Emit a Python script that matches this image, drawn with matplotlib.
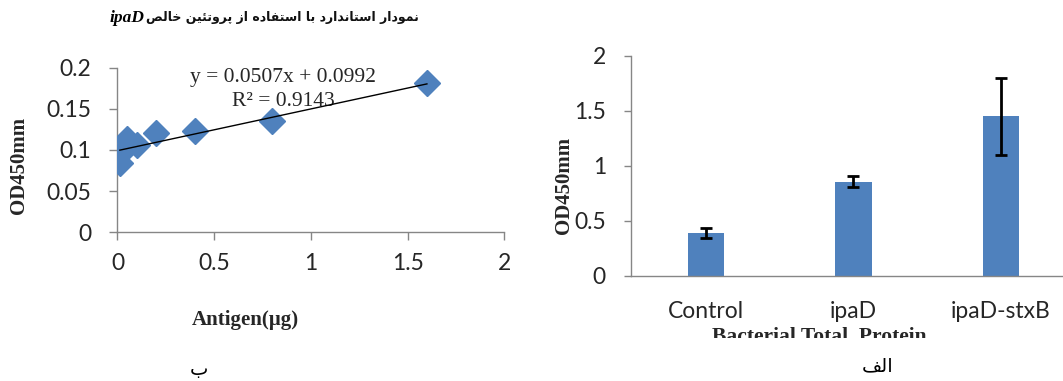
import numpy as np
import matplotlib
matplotlib.use('Agg')
import matplotlib.pyplot as plt
from matplotlib.patches import Rectangle

# standard curve (purified ipaD)
antigen_ug = [0.0125, 0.025, 0.05, 0.1, 0.2, 0.4, 0.8, 1.6]
od_std = [0.084, 0.098, 0.113, 0.106, 0.121, 0.123, 0.135, 0.182]
fit_slope, fit_icpt, fit_r2 = 0.0507, 0.0992, 0.9143

# bacterial total protein
groups = ['Control', 'ipaD', 'ipaD-stxB']
od_mean = [0.39, 0.855, 1.45]
od_err = [0.045, 0.05, 0.35]

BLUE = '#4F81BD'
AXC = '#868686'
TXT = '#262626'

# --- minimal arabic/persian shaping (presentation forms, visual order) ---
FORMS = {
    'ا': ('\uFE8D', '\uFE8E'), 'د': ('\uFEA9', '\uFEAA'), 'ر': ('\uFEAD', '\uFEAE'),
    'ز': ('\uFEAF', '\uFEB0'), 'و': ('\uFEED', '\uFEEE'),
    'ب': ('\uFE8F', '\uFE90', '\uFE91', '\uFE92'), 'ت': ('\uFE95', '\uFE96', '\uFE97', '\uFE98'),
    'خ': ('\uFEA5', '\uFEA6', '\uFEA7', '\uFEA8'), 'س': ('\uFEB1', '\uFEB2', '\uFEB3', '\uFEB4'),
    'ص': ('\uFEB9', '\uFEBA', '\uFEBB', '\uFEBC'), 'ف': ('\uFED1', '\uFED2', '\uFED3', '\uFED4'),
    'ل': ('\uFEDD', '\uFEDE', '\uFEDF', '\uFEE0'), 'م': ('\uFEE1', '\uFEE2', '\uFEE3', '\uFEE4'),
    'ن': ('\uFEE5', '\uFEE6', '\uFEE7', '\uFEE8'), 'ه': ('\uFEE9', '\uFEEA', '\uFEEB', '\uFEEC'),
    'ئ': ('\uFE89', '\uFE8A', '\uFE8B', '\uFE8C'), 'پ': ('\uFB56', '\uFB57', '\uFB58', '\uFB59'),
    'ی': ('\uFBFC', '\uFBFD', '\uFBFE', '\uFBFF'),
}


def shape_fa(s):
    out = []
    for i, ch in enumerate(s):
        f = FORMS.get(ch)
        if f is None:
            out.append(ch)
            continue
        prev = s[i - 1] if i > 0 else ''
        nxt = s[i + 1] if i + 1 < len(s) else ''
        join_prev = prev in FORMS and len(FORMS[prev]) == 4
        join_next = len(f) == 4 and nxt in FORMS
        if join_prev and join_next:
            out.append(f[3])
        elif join_prev:
            out.append(f[1])
        elif join_next:
            out.append(f[2])
        else:
            out.append(f[0])
    return ''.join(out)[::-1]


fig = plt.figure(figsize=(10.63, 3.81), dpi=100)

# ---------------- left: standard curve ----------------
ax1 = fig.add_axes([0.1105, 0.3903, 0.3639, 0.432])
ax1.plot(antigen_ug, od_std, 'D', color=BLUE, ms=13, zorder=3)
xf = np.array([min(antigen_ug), max(antigen_ug)])
ax1.plot(xf, fit_slope * xf + fit_icpt, color='black', lw=1, zorder=4)
ax1.set_xlim(0, 2)
ax1.set_ylim(0, 0.2)
ax1.set_xticks([0, 0.5, 1, 1.5, 2])
ax1.set_xticklabels(['0', '0.5', '1', '1.5', '2'])
ax1.set_yticks([0, 0.05, 0.1, 0.15, 0.2])
ax1.set_yticklabels(['0', '0.05', '0.1', '0.15', '0.2'])
ax1.text(0.856, 0.1887, f'y = {fit_slope}x + {fit_icpt}', ha='center', va='center',
         family='Liberation Serif', fontsize=15.5, color=TXT)
ax1.text(0.856, 0.1587, f'R² = {fit_r2}', ha='center', va='center',
         family='Liberation Serif', fontsize=15.5, color=TXT)
ax1.set_xlabel('Antigen(µg)', family='Liberation Serif', fontweight='bold', fontsize=15, color=TXT)
ax1.xaxis.set_label_coords(0.33, -0.533)
ax1.xaxis.label.set_va('center')
ax1.set_ylabel('OD450mm', family='Liberation Serif', fontweight='bold', fontsize=15, color=TXT)
ax1.yaxis.set_label_coords(-0.2547, 0.409)
ax1.yaxis.label.set_va('center')
ax1.tick_params(axis='y', direction='out', length=6, width=1, color=AXC, pad=13,
                labelsize=16.5, labelcolor=TXT)
ax1.tick_params(axis='x', direction='out', length=6, width=1, color=AXC, pad=9,
                labelsize=16.5, labelcolor=TXT)

# title: persian text + bold italic ipaD
fig.text(0.1355, 0.953, 'ipaD', ha='right', va='center', family='Liberation Serif',
         fontweight='bold', style='italic', fontsize=12.5, color='black')
fig.text(0.137, 0.953, shape_fa('نمودار استاندارد با استفاده از پروتئین خالص'),
         ha='left', va='center', family='DejaVu Sans', fontweight='bold', fontsize=9, color='#111111')

# ---------------- right: bar chart ----------------
ax2 = fig.add_axes([0.5936, 0.2764, 0.4175, 0.5774])
xpos = np.arange(len(groups))
ax2.bar(xpos, od_mean, width=0.245, color=BLUE, zorder=2)
ax2.errorbar(xpos, od_mean, yerr=od_err, fmt='none', ecolor='black', elinewidth=2,
             capsize=4, capthick=2, zorder=3)
ax2.set_xlim(-0.508, 2.5)
ax2.set_ylim(0, 2)
ax2.set_xticks(xpos)
ax2.set_xticklabels(groups)
ax2.set_yticks([0, 0.5, 1, 1.5, 2])
ax2.set_yticklabels(['0', '0.5', '1', '1.5', '2'])
ax2.tick_params(axis='y', direction='out', length=5, width=1, color=AXC, pad=13,
                labelsize=16.5, labelcolor=TXT)
ax2.tick_params(axis='x', length=0, pad=18, labelsize=16.5, labelcolor=TXT)
ax2.set_ylabel('OD450mm', family='Liberation Serif', fontweight='bold', fontsize=15, color=TXT)
ax2.yaxis.set_label_coords(-0.15, 0.408)
ax2.yaxis.label.set_va('center')
ax2.set_xlabel('Bacterial Total  Protein', family='Liberation Serif', fontweight='bold',
               fontsize=15.5, color=TXT)
ax2.xaxis.set_label_coords(0.4236, -0.301)
ax2.xaxis.label.set_va('baseline')
# the axis title is cut off along its lower edge
ax2.xaxis.label.set_clip_path(Rectangle((0, 43.5 / 381), 1, 1, transform=fig.transFigure))

for ax in (ax1, ax2):
    for s in ('top', 'right'):
        ax.spines[s].set_visible(False)
    for s in ('left', 'bottom'):
        ax.spines[s].set_color(AXC)
        ax.spines[s].set_linewidth(1)
    for lbl in ax.get_xticklabels() + ax.get_yticklabels():
        lbl.set_family('Lato')

# panel letters
fig.text(199 / 1063, 1 - 370 / 381, shape_fa('ب'), ha='center', va='center',
         family='DejaVu Sans', fontsize=14, color='black')
fig.text(878 / 1063, 1 - 366 / 381, shape_fa('الف'), ha='center', va='center',
         family='DejaVu Sans', fontsize=14, color='black')

fig.savefig('out.png', dpi=100)
